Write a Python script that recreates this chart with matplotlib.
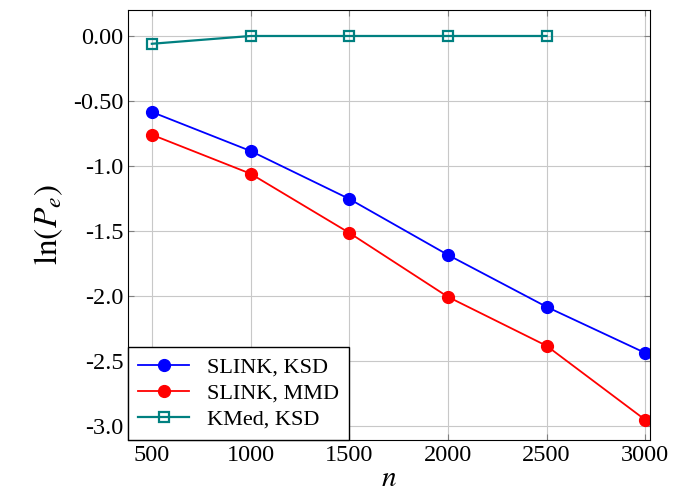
import matplotlib
matplotlib.use('Agg')
import matplotlib.pyplot as plt

plt.rcParams['font.family'] = ['Liberation Serif', 'DejaVu Serif']
plt.rcParams['mathtext.fontset'] = 'stix'

n = [500, 1000, 1500, 2000, 2500, 3000]
slink_ksd = [-0.585, -0.885, -1.254, -1.685, -2.085, -2.44]
slink_mmd = [-0.76, -1.06, -1.515, -2.008, -2.385, -2.955]
n_kmed = [500, 1000, 1500, 2000, 2500]
kmed_ksd = [-0.06, 0.0, 0.0, 0.0, 0.0]

yticks = [0.0, -0.5, -1.0, -1.5, -2.0, -2.5, -3.0]
ylabels = ['0.00', '-0.50', '-1.0', '-1.5', '-2.0', '-2.5', '-3.0']

fig = plt.figure(figsize=(6.78, 5.0), dpi=100)
ax = fig.add_axes([0.189, 0.12, 0.77, 0.86])

ax.plot(n, slink_ksd, color='blue', marker='o', markersize=8.5, lw=1.3, label='SLINK, KSD')
ax.plot(n, slink_mmd, color='red', marker='o', markersize=8.5, lw=1.3, label='SLINK, MMD')
ax.plot(n_kmed, kmed_ksd, color='teal', marker='s', markersize=7.5, markerfacecolor='none',
        markeredgewidth=1.6, lw=1.6, label='KMed, KSD')

ax.set_xlim(380, 3025)
ax.set_ylim(-3.11, 0.2)
ax.set_xticks(n)
ax.set_yticks(yticks)
ax.set_yticklabels(ylabels)
ax.tick_params(direction='in', labelsize=17.5, color='gray', top=True, right=True, length=4)
ax.grid(True, color='#c8c8c8', lw=0.8)
ax.set_axisbelow(True)

ax.set_xlabel('$n$', fontsize=21, labelpad=0)
ax.set_ylabel(r'$\ln(P_e)$', fontsize=24, labelpad=6)

leg = ax.legend(loc='lower left', fontsize=16, fancybox=False, framealpha=1,
                edgecolor='black', borderaxespad=0, handlelength=2.3, labelspacing=0.25,
                borderpad=0.45)
leg.get_frame().set_linewidth(1.0)

fig.savefig('out.png', dpi=100)
